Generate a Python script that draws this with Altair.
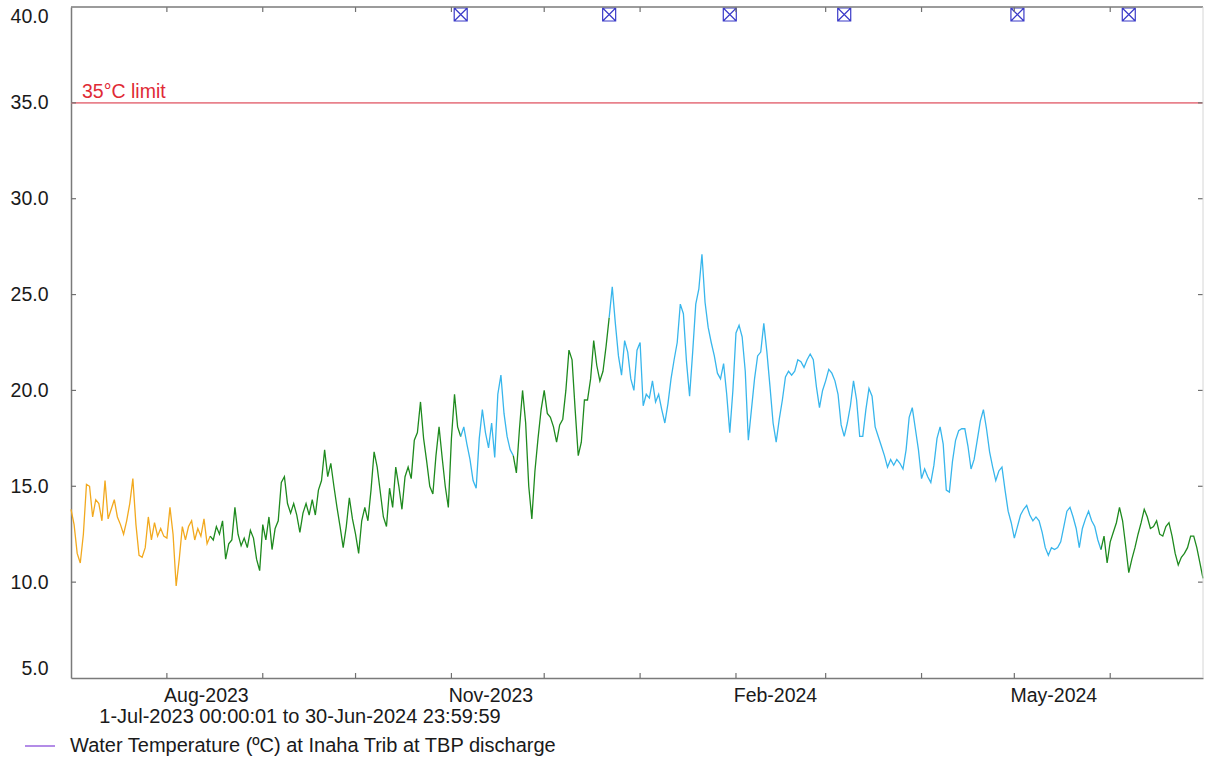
import altair as alt
import pandas as pd

# ---------------------------------------------------------------------------
# Daily water temperature (degC), 1 Jul 2023 .. 1 Jul 2024 (367 readings)
# ---------------------------------------------------------------------------
daily_temp = [
    13.8, 13.0, 11.5, 11.0, 12.5, 15.1, 15.0, 13.4, 14.3, 14.1,
    13.2, 15.3, 13.3, 13.8, 14.3, 13.4, 13.0, 12.5, 13.2, 14.1,
    15.4, 13.0, 11.4, 11.3, 11.8, 13.4, 12.2, 13.1, 12.4, 12.8,
    12.4, 12.3, 13.9, 12.5, 9.8, 11.2, 12.9, 12.2, 12.9, 13.2,
    12.2, 12.8, 12.4, 13.3, 12.0, 12.4, 12.2, 12.9, 12.5, 13.2,
    11.2, 12.0, 12.2, 13.9, 12.5, 11.9, 12.3, 11.8, 12.7, 12.3,
    11.2, 10.6, 13.0, 12.2, 13.4, 11.7, 12.8, 13.2, 15.2, 15.5,
    14.1, 13.6, 14.1, 13.5, 12.6, 13.6, 14.1, 13.5, 14.3, 13.5,
    14.8, 15.3, 16.9, 15.5, 16.2, 15.0, 13.9, 12.9, 11.8, 12.9,
    14.4, 13.3, 12.5, 11.5, 13.2, 13.9, 13.2, 14.8, 16.8, 16.0,
    14.7, 13.4, 12.9, 14.9, 13.9, 16.0, 15.0, 13.8, 15.5, 16.0,
    15.4, 17.4, 17.8, 19.4, 17.5, 16.3, 15.0, 14.6, 16.6, 18.1,
    16.5, 15.0, 13.9, 17.5, 19.8, 18.1, 17.6, 18.1, 17.2, 16.4,
    15.3, 14.9, 17.5, 19.0, 17.8, 17.0, 18.3, 16.5, 19.8, 20.8,
    18.8, 17.6, 16.9, 16.6, 15.7, 18.0, 20.0, 18.3, 15.0, 13.3,
    15.8, 17.5, 19.0, 20.0, 18.8, 18.6, 18.1, 17.3, 18.2, 18.5,
    20.0, 22.1, 21.6, 19.0, 16.6, 17.3, 19.5, 19.5, 20.6, 22.6,
    21.3, 20.5, 21.0, 22.3, 23.8, 25.4, 23.5, 21.8, 20.8, 22.6,
    22.0, 20.6, 20.0, 22.1, 22.5, 19.2, 19.8, 19.6, 20.5, 19.4,
    19.8, 19.0, 18.3, 19.3, 20.6, 21.6, 22.5, 24.5, 24.0, 21.5,
    19.7, 22.0, 24.5, 25.3, 27.1, 24.6, 23.3, 22.5, 21.8, 20.9,
    20.6, 21.4, 19.8, 17.8, 20.0, 23.0, 23.4, 22.8, 21.0, 17.4,
    19.0, 20.6, 21.8, 22.0, 23.5, 22.0, 20.2, 18.3, 17.3, 18.5,
    19.5, 20.7, 21.0, 20.8, 21.0, 21.6, 21.5, 21.2, 21.6, 21.9,
    21.6, 20.2, 19.1, 20.0, 20.5, 21.1, 20.9, 20.5, 19.8, 18.2,
    17.6, 18.3, 19.2, 20.5, 19.5, 17.6, 17.6, 19.0, 20.1, 19.7,
    18.1, 17.6, 17.1, 16.6, 16.0, 16.4, 16.1, 16.4, 16.2, 15.9,
    16.9, 18.6, 19.1, 18.0, 16.9, 15.4, 15.9, 15.5, 15.2, 16.1,
    17.5, 18.1, 17.2, 14.8, 14.7, 16.3, 17.4, 17.9, 18.0, 18.0,
    17.1, 15.9, 16.4, 17.4, 18.4, 19.0, 18.0, 16.8, 16.0, 15.3,
    15.8, 16.0, 14.8, 13.7, 13.1, 12.3, 12.9, 13.5, 13.8, 14.0,
    13.5, 13.2, 13.4, 13.2, 12.6, 11.8, 11.4, 11.8, 11.7, 11.8,
    12.1, 12.9, 13.7, 13.9, 13.4, 12.8, 11.8, 12.8, 13.3, 13.7,
    13.2, 12.9, 12.2, 11.7, 12.4, 11.0, 12.1, 12.6, 13.1, 13.9,
    13.2, 11.9, 10.5, 11.2, 11.8, 12.5, 13.1, 13.8, 13.4, 12.8,
    12.9, 13.2, 12.5, 12.4, 12.9, 13.1, 12.4, 11.5, 10.9, 11.3,
    11.5, 11.8, 12.4, 12.4, 11.8, 11.0, 10.2,
]

# Data-grade segments: first day, last day and grade of each run
seg_first = [0, 45, 126, 143, 174, 333]
seg_last = [45, 126, 143, 174, 333, 366]
seg_grade = ["fair", "good", "estimated", "good", "estimated", "good"]
grade_names = ["fair", "good", "estimated"]
grade_colors = ["#F2A91E", "#1E8A1E", "#38B6EC"]

# Site-visit dates shown along the top edge
visit_dates = ["2023-11-04", "2023-12-22", "2024-01-30",
               "2024-03-07", "2024-05-02", "2024-06-07"]

# Monthly tick positions and labelled months
month_starts = ["2023-08-01", "2023-09-01", "2023-10-01", "2023-11-01",
                "2023-12-01", "2024-01-01", "2024-02-01", "2024-03-01",
                "2024-04-01", "2024-05-01", "2024-06-01"]
labelled_months = [(2023, 8), (2023, 11), (2024, 2), (2024, 5)]
y_ticks = [10, 15, 20, 25, 30, 35]
limit_value = 35

W, H = 1132, 671
FONT = "Liberation Sans"

start = pd.Timestamp("2023-07-01")


def iso(ts):
    return pd.Timestamp(ts).strftime("%Y-%m-%dT%H:%M:%SZ")


rows = []
for i, (a, b, g) in enumerate(zip(seg_first, seg_last, seg_grade)):
    for d in range(a, b + 1):
        rows.append({"date": iso(start + pd.Timedelta(days=d)),
                     "temp": daily_temp[d], "seg": i, "grade": g})
series = pd.DataFrame(rows)

x_scale = alt.Scale(type="utc",
                    domain=[alt.DateTime(year=2023, month=7, date=1, utc=True),
                            alt.DateTime(year=2024, month=7, date=1, utc=True)])
y_scale = alt.Scale(domain=[5, 40], nice=False, zero=False)

x_axis = alt.Axis(
    values=[alt.DateTime(year=y, month=m, date=1, utc=True) for y, m in labelled_months],
    labelExpr="utcFormat(datum.value, '%b-%Y')",
    ticks=False, grid=False, labelOffset=39, labelPadding=8,
    labelOverlap=False, title=None,
)
y_axis = alt.Axis(values=list(range(5, 45, 5)), format=".1f", labelFlush=True,
                  ticks=False, grid=False, labelPadding=23, title=None)

line = alt.Chart(series).mark_line(strokeWidth=1.3).encode(
    x=alt.X("date:T", scale=x_scale, axis=x_axis),
    y=alt.Y("temp:Q", scale=y_scale, axis=y_axis),
    color=alt.Color("grade:N", scale=alt.Scale(domain=grade_names, range=grade_colors),
                    legend=None),
    detail="seg:N",
)

limit_rule = alt.Chart(pd.DataFrame({"v": [limit_value]})).mark_rule(
    color="#E8828C", strokeWidth=1.6
).encode(y=alt.Y("v:Q", scale=y_scale))

limit_text = alt.Chart(pd.DataFrame({"v": [limit_value]})).mark_text(
    text="35°C limit", align="left", baseline="alphabetic", dy=-5,
    font=FONT, fontSize=19.5, color="#E02A36"
).encode(x=alt.value(11), y=alt.Y("v:Q", scale=y_scale))

visits = alt.Chart(pd.DataFrame({"date": [iso(d) for d in visit_dates]})).mark_point(
    shape="M-1,-1H1V1H-1Z M-1,-1L1,1 M1,-1L-1,1",
    size=169, filled=False, stroke="#3A3AC8", strokeWidth=1.2, opacity=1
).encode(x=alt.X("date:T", scale=x_scale), y=alt.value(7.5))

month_df = pd.DataFrame({"date": [iso(d) for d in month_starts]})
tick_color = "#707070"
bottom_ticks = alt.Chart(month_df).mark_rule(color=tick_color, strokeWidth=1.2).encode(
    x=alt.X("date:T", scale=x_scale), y=alt.value(H - 5), y2=alt.value(H))
top_ticks = alt.Chart(month_df).mark_rule(color=tick_color, strokeWidth=1.2).encode(
    x=alt.X("date:T", scale=x_scale), y=alt.value(0), y2=alt.value(5))

ytick_df = pd.DataFrame({"v": y_ticks})
left_ticks = alt.Chart(ytick_df).mark_rule(color=tick_color, strokeWidth=1.2).encode(
    y=alt.Y("v:Q", scale=y_scale), x=alt.value(0), x2=alt.value(5))
right_ticks = alt.Chart(ytick_df).mark_rule(color=tick_color, strokeWidth=1.2).encode(
    y=alt.Y("v:Q", scale=y_scale), x=alt.value(W - 5), x2=alt.value(W))

one = pd.DataFrame({"k": [0]})
top_edge = alt.Chart(one).mark_rule(color="#7a7a7a", strokeWidth=1.5).encode(
    x=alt.value(0), x2=alt.value(W), y=alt.value(0))
right_edge = alt.Chart(one).mark_rule(color="#d6d6d6", strokeWidth=1).encode(
    x=alt.value(W), y=alt.value(0), y2=alt.value(H))

period_text = alt.Chart(one).mark_text(
    text="1-Jul-2023 00:00:01 to 30-Jun-2024 23:59:59", align="center",
    baseline="alphabetic", font=FONT, fontSize=20, color="#1a1a1a"
).encode(x=alt.value(229), y=alt.value(716))

legend_line = alt.Chart(one).mark_rule(color="#8040D8", strokeWidth=1.2).encode(
    x=alt.value(-46), x2=alt.value(-16), y=alt.value(739))
legend_text = alt.Chart(one).mark_text(
    text="Water Temperature (ºC) at Inaha Trib at TBP discharge", align="left",
    baseline="alphabetic", font=FONT, fontSize=20, color="#1a1a1a"
).encode(x=alt.value(-1), y=alt.value(745))

chart = alt.layer(
    line, limit_rule, limit_text, visits, bottom_ticks, top_ticks,
    left_ticks, right_ticks, top_edge, right_edge,
    period_text, legend_line, legend_text,
).properties(
    width=W, height=H,
    padding={"left": 71, "top": 7, "right": 3, "bottom": 84},
    autosize=alt.AutoSizeParams(type="none"),
).configure_view(stroke=None).configure_axis(
    domainColor="#7a7a7a", domainWidth=1.5,
    labelFont=FONT, labelFontSize=19.5, labelColor="#1a1a1a",
)

chart.save("out.html", embed_options={"renderer": "svg", "actions": False})
